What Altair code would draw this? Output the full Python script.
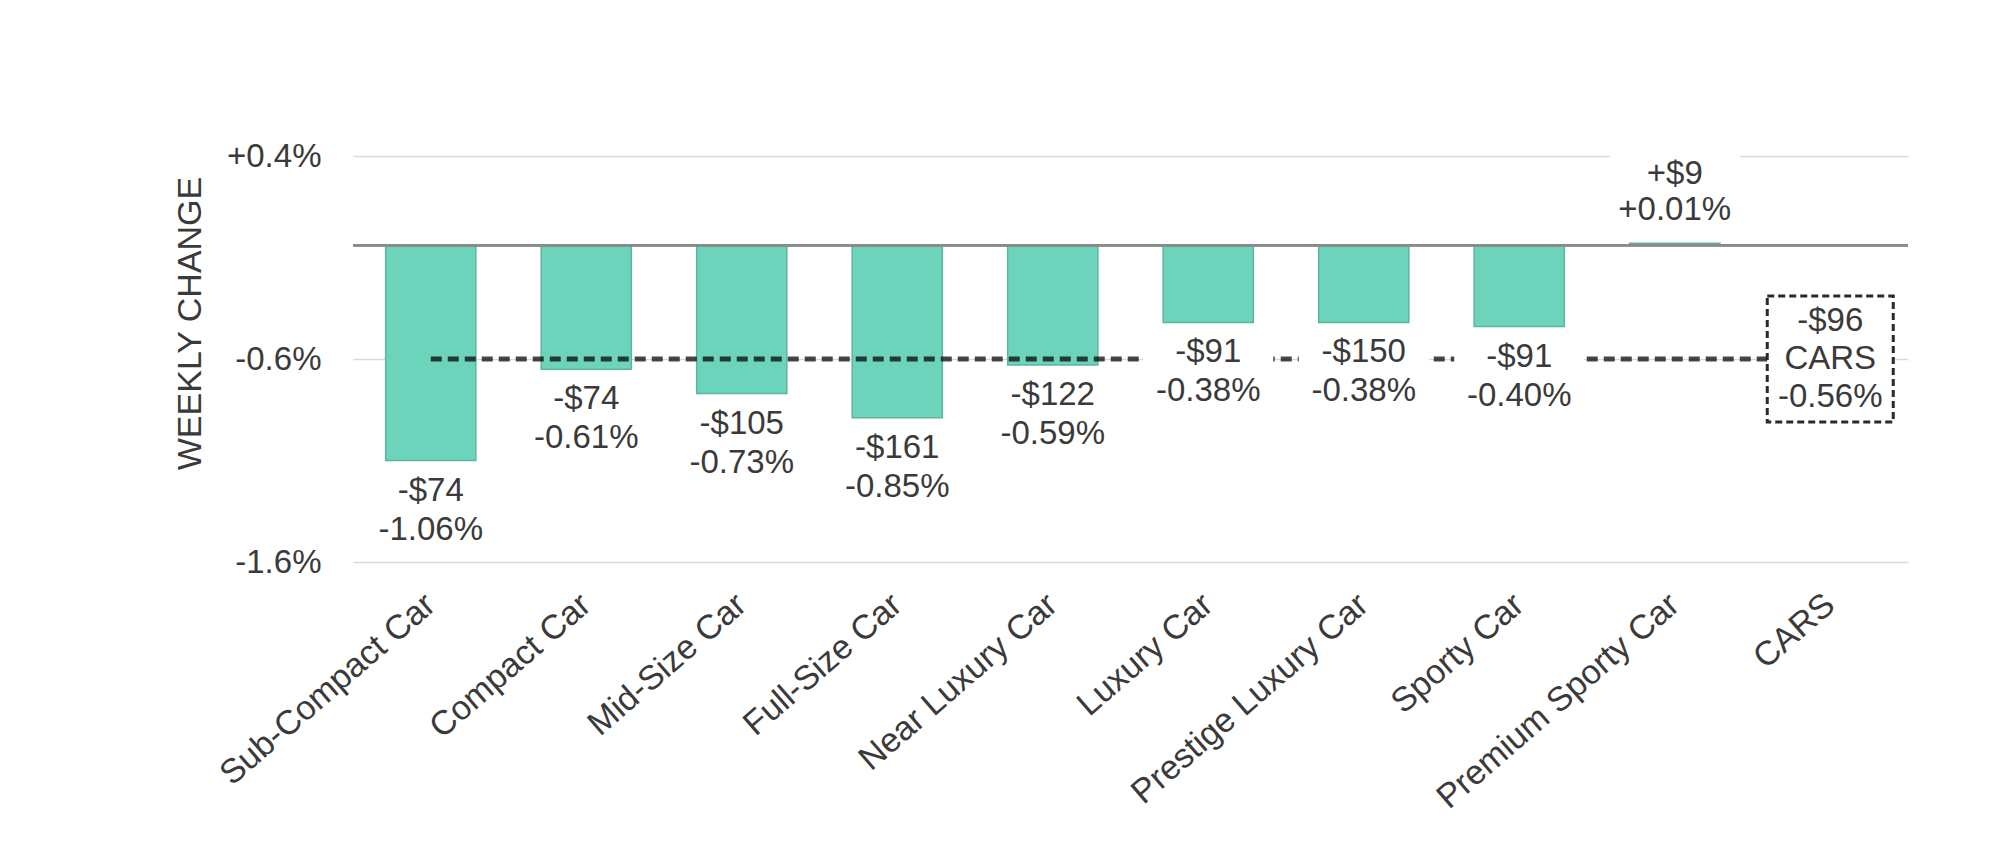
import altair as alt
import pandas as pd

# ---- data ----
categories = ["Sub-Compact Car", "Compact Car", "Mid-Size Car", "Full-Size Car",
              "Near Luxury Car", "Luxury Car", "Prestige Luxury Car", "Sporty Car",
              "Premium Sporty Car"]
pct_change = [-1.06, -0.61, -0.73, -0.85, -0.59, -0.38, -0.38, -0.40, 0.01]
dollar_change = [-74, -74, -105, -161, -122, -91, -150, -91, 9]
total_label = "CARS"
total_pct = -0.56
total_dollar = -96
y_ticks = [0.44, -0.56, -1.56]

FONT = "Liberation Sans"
TXT = "#3a3a3a"


def money(v):
    return ("+" if v > 0 else "-") + "$" + str(abs(v))


def pctfmt(v):
    return f"{v:+.2f}%"


all_cats = categories + [total_label]

bars = pd.DataFrame({
    "cat": categories,
    "pct": pct_change,
    "dollar": [money(v) for v in dollar_change],
    "pctl": [pctfmt(v) for v in pct_change],
})
total = pd.DataFrame({
    "cat": [total_label],
    "pct": [total_pct],
    "dollar": [money(total_dollar)],
    "name": [total_label],
    "pctl": [pctfmt(total_pct)],
})
avg = pd.DataFrame({"cat": [categories[0]], "cat2": [total_label], "pct": [total_pct]})

x_axis = alt.Axis(labelAngle=319, labelAlign="right", labelBaseline="middle",
                  labelFontSize=34, labelFont=FONT, labelColor=TXT, labelPadding=38,
                  labelLimit=0, domain=False, ticks=False, grid=False, title=None,
                  labelOverlap=False)
y_axis = alt.Axis(values=y_ticks,
                  labelExpr="(datum.value > 0 ? '+' : '-') + format(abs(datum.value), '.1f') + '%'",
                  domain=False, ticks=False, grid=True, gridColor="#d9d9d9", gridWidth=1.5,
                  labelFontSize=33, labelFont=FONT, labelColor=TXT, labelPadding=32,
                  title="WEEKLY CHANGE", titleFontSize=34, titleFont=FONT,
                  titleFontWeight="normal", titleColor=TXT, titleX=-163, titleY=167,
                  titleAngle=270, titleAlign="center", titleBaseline="middle")

x_scale = alt.Scale(domain=all_cats, paddingInner=0.42, paddingOuter=0.21)
y_scale = alt.Scale(domain=[-1.56, 0.44], nice=False, zero=False)


def X():
    return alt.X("cat:N", scale=x_scale, axis=x_axis, sort=all_cats, title=None)


def Y():
    return alt.Y("pct:Q", scale=y_scale, axis=y_axis, title="WEEKLY CHANGE")


base = alt.Chart(bars)

bar_layer = base.mark_bar(color="#6dd4bc", stroke="#5fb49e", strokeWidth=1.5).encode(
    x=X(), y=Y(), y2=alt.datum(0))

zero_rule = alt.Chart(bars).mark_rule(color="#8a8a8a", strokeWidth=2).encode(y=alt.datum(0))

avg_rule = alt.Chart(avg).mark_rule(color="#000000", opacity=0.72, strokeWidth=5,
                                    strokeDash=[11, 6]).encode(
    x=X(), x2="cat2:N", y=Y())

box_shape = "M-1,-0.62H1V0.62H-1Z"
neg = base.transform_filter("datum.pct < 0")
pos = base.transform_filter("datum.pct >= 0")

neg_bg = neg.mark_point(shape=box_shape, size=16900, filled=True, fill="white",
                        opacity=1, strokeWidth=0, yOffset=49).encode(x=X(), y=Y())
pos_bg = pos.mark_point(shape=box_shape, size=16900, filled=True, fill="white",
                        opacity=1, strokeWidth=0, yOffset=-51).encode(x=X(), y=Y())

tprops = dict(font=FONT, fontSize=33, color=TXT, baseline="middle", align="center")
neg_t1 = neg.mark_text(dy=30, **tprops).encode(x=X(), y=Y(), text="dollar:N")
neg_t2 = neg.mark_text(dy=69, **tprops).encode(x=X(), y=Y(), text="pctl:N")
pos_t1 = pos.mark_text(dy=-69, **tprops).encode(x=X(), y=Y(), text="dollar:N")
pos_t2 = pos.mark_text(dy=-33, **tprops).encode(x=X(), y=Y(), text="pctl:N")

tot = alt.Chart(total)
tot_box = tot.mark_point(shape="square", size=15876, filled=False, fill="white",
                         fillOpacity=1, stroke="#2a2a2a", strokeWidth=3,
                         strokeDash=[7, 4], opacity=1).encode(x=X(), y=Y())
tot_t1 = tot.mark_text(dy=-38, **tprops).encode(x=X(), y=Y(), text="dollar:N")
tot_t2 = tot.mark_text(dy=0, **tprops).encode(x=X(), y=Y(), text="name:N")
tot_t3 = tot.mark_text(dy=38, **tprops).encode(x=X(), y=Y(), text="pctl:N")

chart = alt.layer(
    bar_layer, zero_rule, avg_rule, neg_bg, pos_bg,
    neg_t1, neg_t2, pos_t1, pos_t2, tot_box, tot_t1, tot_t2, tot_t3
).properties(
    width=1555, height=406,
    background="white",
    autosize=alt.AutoSizeParams(type="none"),
    padding={"left": 345, "top": 148, "right": 80, "bottom": 270},
).configure_view(strokeWidth=0, strokeOpacity=0)

chart.save("out.html", embed_options={"renderer": "svg", "actions": False})
